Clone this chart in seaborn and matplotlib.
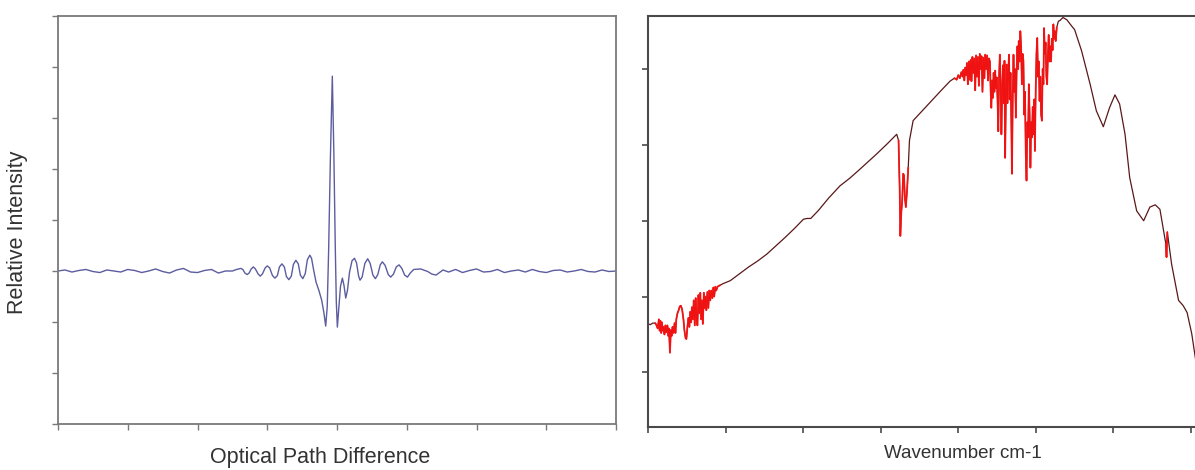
import numpy as np
import pandas as pd
import matplotlib
matplotlib.use("Agg")
import matplotlib.pyplot as plt
import seaborn as sns

# interferogram (left) - x in tick units 0..8, y in tick units 0..8
opd = [0.00, 0.10, 0.20, 0.30, 0.40, 0.50, 0.60, 0.70, 0.80, 0.90,
       1.00, 1.10, 1.20, 1.30, 1.40, 1.50, 1.60, 1.70, 1.80, 1.90,
       2.00, 2.10, 2.20, 2.30, 2.40, 2.50, 2.56, 2.62, 2.65, 2.68,
       2.71, 2.74, 2.77, 2.80, 2.83, 2.87, 2.90, 2.93, 2.97, 3.00,
       3.035, 3.075, 3.11, 3.145, 3.175, 3.21, 3.245, 3.275, 3.31, 3.345,
       3.375, 3.41, 3.445, 3.475, 3.51, 3.545, 3.575, 3.61, 3.635, 3.665,
       3.70, 3.74, 3.78, 3.81, 3.838, 3.86, 3.88, 3.905, 3.933, 3.955,
       3.975, 3.99, 4.005, 4.025, 4.05, 4.077, 4.10, 4.125, 4.15, 4.18,
       4.215, 4.25, 4.28, 4.31, 4.33, 4.36, 4.40, 4.44, 4.475, 4.515,
       4.55, 4.585, 4.62, 4.65, 4.69, 4.735, 4.77, 4.81, 4.85, 4.89,
       4.93, 4.97, 5.01, 5.05, 5.10, 5.20, 5.30, 5.36, 5.42, 5.47,
       5.52, 5.60, 5.70, 5.80, 5.90, 6.00, 6.10, 6.20, 6.30, 6.40,
       6.50, 6.60, 6.70, 6.80, 6.90, 7.00, 7.10, 7.20, 7.30, 7.40,
       7.50, 7.60, 7.70, 7.80, 7.90, 8.00]
intensity = [3.00, 3.02, 2.98, 3.01, 3.03, 2.99, 2.97, 3.02, 3.00, 2.98,
             3.03, 3.01, 2.97, 3.00, 3.04, 2.99, 2.96, 3.02, 3.05, 2.98,
             2.97, 3.01, 3.03, 2.96, 3.00, 3.00, 3.03, 3.05, 3.03, 2.96,
             2.93, 2.96, 3.04, 3.08, 3.04, 2.94, 2.90, 2.94, 3.06, 3.10,
             3.06, 2.91, 2.86, 2.91, 3.08, 3.14, 3.08, 2.89, 2.83, 2.90,
             3.13, 3.21, 3.14, 2.92, 2.85, 2.95, 3.22, 3.31, 3.25, 3.02,
             2.78, 2.62, 2.43, 2.20, 1.92, 2.30, 3.40, 5.20, 6.82, 5.30,
             3.50, 2.40, 1.90, 2.25, 2.70, 2.86, 2.72, 2.47, 2.62, 2.98,
             3.20, 3.25, 3.16, 2.90, 2.82, 2.88, 3.15, 3.24, 3.15, 2.92,
             2.85, 2.93, 3.12, 3.18, 3.11, 2.93, 2.88, 2.94, 3.08, 3.12,
             3.05, 2.92, 2.88, 2.96, 3.03, 3.04, 2.99, 2.94, 2.92, 2.97,
             3.02, 2.98, 3.03, 2.97, 3.01, 3.04, 2.98, 2.99, 3.03, 2.97,
             3.00, 3.02, 2.98, 3.03, 2.99, 2.97, 3.01, 3.02, 2.98, 3.00,
             3.03, 2.99, 2.98, 3.02, 2.99, 3.00]

# single beam spectrum (right) - x in tick units 0..7, y in tick units
wavenumber = [0.000, 0.030, 0.060, 0.094, 0.110, 0.125, 0.140, 0.150, 0.160, 0.170,
              0.180, 0.190, 0.200, 0.212, 0.225, 0.237, 0.250, 0.262, 0.270, 0.283,
              0.295, 0.305, 0.316, 0.330, 0.342, 0.354, 0.365, 0.380, 0.395, 0.410,
              0.424, 0.440, 0.457, 0.470, 0.485, 0.495, 0.510, 0.522, 0.533, 0.545,
              0.556, 0.566, 0.578, 0.590, 0.603, 0.615, 0.627, 0.637, 0.650, 0.662,
              0.674, 0.686, 0.697, 0.707, 0.720, 0.730, 0.740, 0.752, 0.765, 0.778,
              0.790, 0.803, 0.816, 0.830, 0.843, 0.853, 0.868, 0.880, 0.896, 0.930,
              0.967, 1.061, 1.180, 1.297, 1.415, 1.532, 1.650, 1.768, 1.890, 2.004,
              2.050, 2.098, 2.192, 2.330, 2.475, 2.600, 2.711, 2.830, 2.947, 3.080,
              3.206, 3.230, 3.245, 3.253, 3.265, 3.277, 3.290, 3.300, 3.312, 3.324,
              3.340, 3.355, 3.371, 3.418, 3.536, 3.654, 3.772, 3.893, 3.950, 3.980,
              4.000, 4.020, 4.040, 4.055, 4.065, 4.078, 4.090, 4.100, 4.112, 4.124,
              4.136, 4.148, 4.160, 4.170, 4.182, 4.194, 4.206, 4.218, 4.230, 4.242,
              4.254, 4.266, 4.278, 4.290, 4.300, 4.312, 4.324, 4.336, 4.348, 4.360,
              4.372, 4.384, 4.396, 4.408, 4.418, 4.426, 4.436, 4.446, 4.456, 4.466,
              4.476, 4.486, 4.496, 4.506, 4.516, 4.526, 4.536, 4.546, 4.556, 4.566,
              4.576, 4.586, 4.596, 4.604, 4.614, 4.624, 4.634, 4.644, 4.654, 4.664,
              4.674, 4.684, 4.692, 4.702, 4.712, 4.722, 4.732, 4.742, 4.752, 4.762,
              4.772, 4.780, 4.790, 4.800, 4.810, 4.820, 4.830, 4.840, 4.850, 4.860,
              4.870, 4.880, 4.890, 4.900, 4.910, 4.920, 4.930, 4.940, 4.950, 4.960,
              4.970, 4.980, 4.988, 4.998, 5.008, 5.018, 5.028, 5.038, 5.048, 5.058,
              5.068, 5.078, 5.088, 5.098, 5.106, 5.116, 5.126, 5.136, 5.146, 5.156,
              5.166, 5.176, 5.186, 5.196, 5.206, 5.216, 5.226, 5.236, 5.246, 5.256,
              5.270, 5.290, 5.310, 5.330, 5.350, 5.400, 5.460, 5.500, 5.590, 5.700,
              5.780, 5.870, 5.950, 6.020, 6.080, 6.150, 6.210, 6.300, 6.390, 6.470,
              6.540, 6.600, 6.640, 6.675, 6.685, 6.695, 6.750, 6.840, 6.900, 6.950,
              7.010, 7.070]
signal = [1.64, 1.63, 1.65, 1.65, 1.62, 1.58, 1.70, 1.55, 1.68, 1.52,
          1.66, 1.55, 1.60, 1.50, 1.62, 1.53, 1.62, 1.48, 1.58, 1.26,
          1.56, 1.48, 1.60, 1.52, 1.65, 1.52, 1.70, 1.78, 1.82, 1.87,
          1.88, 1.83, 1.70, 1.55, 1.45, 1.44, 1.62, 1.72, 1.60, 1.80,
          1.66, 1.86, 1.70, 1.95, 1.62, 1.98, 1.70, 1.62, 2.02, 1.78,
          2.05, 1.70, 1.95, 1.64, 2.05, 1.85, 2.00, 1.82, 2.06, 1.85,
          2.08, 1.95, 2.08, 1.98, 2.12, 2.00, 2.13, 2.08, 2.13, 2.15,
          2.17, 2.21, 2.30, 2.39, 2.47, 2.56, 2.67, 2.78, 2.90, 3.02,
          3.03, 3.03, 3.13, 3.30, 3.46, 3.56, 3.66, 3.77, 3.88, 4.01,
          4.14, 4.06, 3.40, 2.80, 3.10, 3.26, 3.62, 3.60, 3.30, 3.18,
          3.40, 3.70, 4.06, 4.32, 4.45, 4.58, 4.71, 4.84, 4.88, 4.86,
          4.92, 4.88, 4.96, 4.90, 4.99, 4.85, 5.02, 4.92, 5.08, 4.80,
          5.10, 4.86, 5.12, 4.84, 5.16, 4.95, 5.14, 4.72, 5.18, 4.90,
          5.16, 4.78, 5.20, 5.00, 5.17, 4.70, 5.15, 4.88, 5.19, 5.00,
          5.18, 4.85, 5.14, 5.10, 4.70, 4.49, 4.85, 4.62, 4.95, 4.70,
          4.98, 4.75, 4.89, 4.60, 4.18, 4.90, 5.19, 4.80, 4.14, 4.70,
          5.05, 4.55, 5.11, 3.83, 4.60, 5.06, 4.55, 4.95, 5.19, 4.60,
          4.95, 4.30, 3.62, 4.60, 5.19, 4.70, 5.00, 4.36, 4.95, 5.30,
          5.00, 5.37, 5.10, 5.50, 5.30, 4.80, 5.20, 5.11, 4.40, 4.70,
          3.90, 3.53, 4.30, 4.10, 4.80, 4.40, 3.70, 4.30, 4.10, 4.50,
          4.14, 4.60, 3.92, 4.70, 5.20, 5.41, 4.90, 5.10, 4.58, 4.90,
          4.40, 4.32, 5.00, 4.80, 5.54, 5.20, 5.35, 4.90, 4.80, 5.20,
          5.45, 5.10, 5.30, 5.10, 5.40, 5.25, 5.59, 5.40, 5.50, 5.37,
          5.55, 5.63, 5.64, 5.66, 5.68, 5.65, 5.57, 5.52, 5.24, 4.80,
          4.45, 4.24, 4.49, 4.66, 4.54, 4.14, 3.57, 3.13, 3.00, 3.18,
          3.21, 3.15, 2.91, 2.70, 2.52, 2.85, 2.43, 1.95, 1.88, 1.79,
          1.51, 1.10]

# stretches of the spectrum with absorption lines (drawn in red)
line_bands = [(0.09, 0.95), (3.23, 3.37), (3.94, 5.27), (6.665, 6.70)]

left_df = pd.DataFrame({"opd": opd, "intensity": intensity})
right_df = pd.DataFrame({"wn": wavenumber, "signal": signal})
in_band = np.zeros(len(right_df), dtype=bool)
for lo, hi in line_bands:
    in_band |= (right_df["wn"] >= lo) & (right_df["wn"] <= hi)
right_df["lines"] = right_df["signal"].where(in_band)

sns.set_style("white")
plt.rcParams["font.family"] = ["Liberation Sans", "DejaVu Sans"]

fig = plt.figure(figsize=(11.95, 4.70), dpi=100)
ax1 = fig.add_axes([58 / 1195, 46 / 470, 558 / 1195, 408 / 470])
ax2 = fig.add_axes([648 / 1195, 43 / 470, 548.4 / 1195, 411 / 470])

# left: interferogram
sns.lineplot(data=left_df, x="opd", y="intensity", ax=ax1, color="#5c5ca0",
             lw=1.0, sort=False, estimator=None)
ax1.set_xlim(0, 8)
ax1.set_ylim(0, 8)
ax1.set_xticks(np.arange(0, 9))
ax1.set_yticks(np.arange(0, 9))
ax1.set_xticklabels([])
ax1.set_yticklabels([])
for sp in ax1.spines.values():
    sp.set_color("#7a7a7a")
    sp.set_linewidth(1.3)
ax1.tick_params(length=4, width=1.0, color="#7a7a7a", bottom=True, left=True)
ax1.set_xlabel("Optical Path Difference", fontsize=15.5, color="#333333")
ax1.set_ylabel("Relative Intensity", fontsize=15.5, color="#333333")
ax1.xaxis.set_label_coords(0.47, -0.056)
ax1.yaxis.set_label_coords(-0.054, 0.47)

# right: dark trace, absorption line stretches in red on top
sns.lineplot(data=right_df, x="wn", y="signal", ax=ax2, color="#5a1818",
             lw=0.9, sort=False, estimator=None)
ax2.plot(right_df["wn"], right_df["lines"], color="#ff1212", lw=1.3, alpha=0.9)
ax2.set_xlim(0, 7.07)
ax2.set_ylim(0.28, 5.70)
ax2.set_xticks(np.arange(0, 8))
ax2.set_yticks(np.arange(1, 6))
ax2.set_xticklabels([])
ax2.set_yticklabels([])
for sp in ax2.spines.values():
    sp.set_color("#4a4a4a")
    sp.set_linewidth(1.5)
ax2.tick_params(length=4, width=1.2, color="#4a4a4a", bottom=True, left=True)
ax2.set_xlabel("Wavenumber cm-1", fontsize=13.5, color="#333333")
ax2.set_ylabel("")
ax2.xaxis.set_label_coords(0.575, -0.044)

fig.savefig("out.png", dpi=100)
